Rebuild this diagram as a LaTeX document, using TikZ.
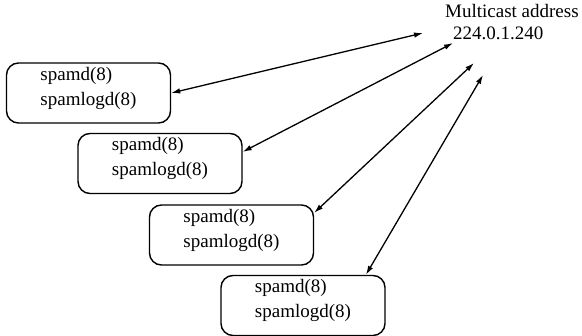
\documentclass[tikz,border=0pt]{standalone}
\usepackage{fontspec}
\setmainfont{Liberation Serif}
\usetikzlibrary{arrows.meta}
\newcommand{\daemons}[0]{spamd(8)\\spamlogd(8)}
\newcommand{\boxFont}[0]{\fontsize{19}{25}\selectfont}

\begin{document}
\begin{tikzpicture}[x=1pt, y=-1pt]
  \tikzset{daemon box/.style={draw, line width=1.4pt, rounded corners=12pt,
      minimum width=164pt, minimum height=60pt, align=left,
      font=\boxFont, text depth=14pt},
    link/.style={line width=1.3pt,
      {Latex[length=9pt,width=5.5pt]}-{Latex[length=9pt,width=5.5pt]}}}
  \useasboundingbox (0,0) rectangle (582,336);
  \node[daemon box] (b1) at (88.5,93) {\daemons};
  \node[daemon box] (b2) at (160,163.5) {\daemons};
  \node[daemon box] (b3) at (231.5,235) {\daemons};
  \node[daemon box] (b4) at (303,305.5) {\daemons};
  \node[align=left, anchor=north west, inner sep=0pt,
    font=\fontsize{19}{22}\selectfont] (mcast) at (445,4)
    {Multicast address\\\hspace*{8pt}224.0.1.240};
  \coordinate (m1) at (423,33);
  \coordinate (m2) at (453,43);
  \coordinate (m3) at (474,63);
  \coordinate (m4) at (483,75);
  \draw[link] (b1.east) -- (m1);
  \draw[link] (b2.8) -- (m2);
  \draw[link] (b3.15) -- (m3);
  \draw[link] (b4.26) -- (m4);
\end{tikzpicture}
\end{document}
